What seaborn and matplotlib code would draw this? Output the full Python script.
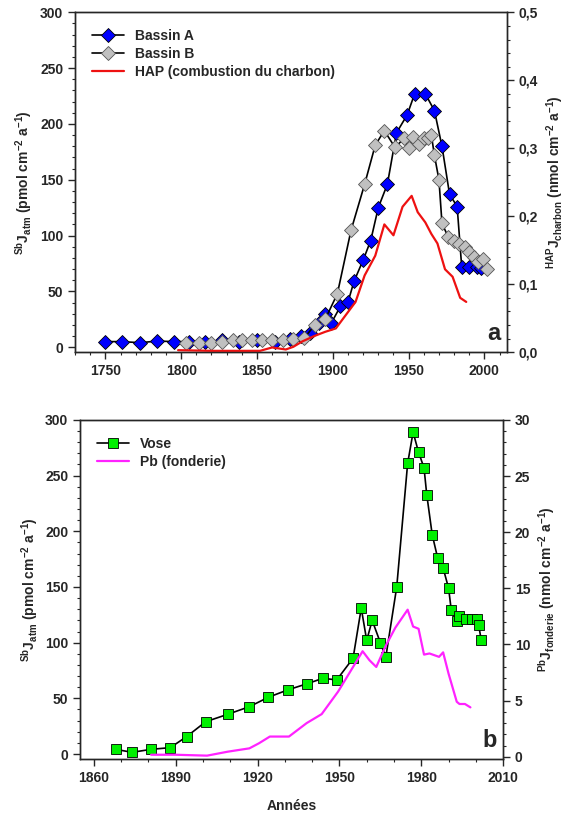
import matplotlib
matplotlib.use("Agg")
import matplotlib.pyplot as plt
import matplotlib.ticker as mticker
import seaborn as sns

# --- panel a : Sb fluxes in two basins + PAH (coal combustion)
years_a = [1750, 1761, 1773, 1784, 1795, 1805, 1816, 1827, 1838, 1850, 1862, 1872,
           1879, 1885, 1891, 1895, 1899, 1905, 1910, 1914, 1920, 1925, 1930, 1936,
           1942, 1949, 1954, 1961, 1967, 1972, 1977, 1982, 1985, 1990, 1995, 1998]
bassin_a = [5, 5, 4, 5.5, 5, 5, 5, 6, 5, 6, 5, 7,
            10, 12.5, 21.6, 29.4, 21.6, 36.5, 40.3, 59, 78, 95.5, 125, 146,
            192, 208, 227, 227, 212, 180, 137, 126, 72, 72, 72, 71]

years_b = [1803, 1812, 1820, 1827, 1834, 1840, 1847, 1853, 1860, 1867, 1874, 1881,
           1888, 1895, 1903, 1912, 1921, 1928, 1934, 1941, 1947, 1950, 1953, 1957,
           1960, 1963, 1965, 1967, 1970, 1972, 1976, 1980, 1983, 1987, 1990, 1993,
           1996, 1999, 2002]
bassin_b = [4, 4, 4, 5, 6, 6, 6, 6, 6, 6, 7, 8,
            19.6, 25, 47.8, 104.6, 146, 181, 194, 179, 187, 178, 188, 182,
            187, 187, 190, 172, 150, 111, 99, 95, 92, 90, 85, 81,
            76, 79, 70]

years_hap = [1798, 1820, 1842, 1852, 1860, 1869, 1874, 1880, 1888, 1895, 1902, 1906,
             1910, 1915, 1921, 1928, 1934, 1940, 1946, 1952, 1956, 1961, 1965, 1969,
             1974, 1979, 1984, 1988]
hap = [0.003, 0.002, 0.002, 0.002, 0.007, 0.004, 0.008, 0.016, 0.024, 0.030, 0.035, 0.047,
       0.059, 0.074, 0.113, 0.142, 0.188, 0.172, 0.214, 0.230, 0.206, 0.191, 0.174, 0.160,
       0.122, 0.111, 0.080, 0.074]

# --- panel b : Sb flux at Vose + Pb (smelter)
years_vose = [1868, 1874, 1881, 1888, 1894, 1901, 1909, 1917, 1924, 1931, 1938, 1944,
              1949, 1955, 1958, 1960, 1962, 1965, 1967, 1971, 1975, 1977, 1979, 1981,
              1982, 1984, 1986, 1988, 1990, 1991, 1993, 1994, 1996.5, 1998.5, 2000.3,
              2001, 2002]
vose = [4.2, 1.5, 4.2, 5.7, 15.6, 29, 35.6, 42.5, 51, 57.5, 63, 68,
        66.5, 86, 131, 102, 120, 100, 87, 150, 261, 289, 271, 257,
        233, 197, 176, 167, 149, 129, 119.5, 124, 121, 121, 121,
        116, 102]

years_pb = [1881, 1890, 1901.5, 1909, 1917, 1920.5, 1924.5, 1931.5, 1938, 1943.5, 1949.5,
            1954, 1958.5, 1961, 1963.5, 1967, 1970.5, 1975, 1977, 1979, 1981, 1983,
            1986.5, 1988, 1990, 1993, 1994, 1996, 1998]
pb = [0.18, 0.18, 0.1, 0.45, 0.75, 1.2, 1.8, 1.8, 3.0, 3.8, 5.8,
      7.6, 9.4, 8.6, 8.0, 9.9, 11.5, 13.1, 11.6, 11.4, 9.1, 9.2,
      8.9, 9.3, 7.4, 4.9, 4.7, 4.7, 4.4]

sns.set_style("ticks")
plt.rcParams["font.family"] = ["Liberation Sans", "DejaVu Sans"]
plt.rcParams["font.weight"] = "bold"
plt.rcParams["mathtext.fontset"] = "custom"
plt.rcParams["mathtext.rm"] = "Liberation Sans:bold"
plt.rcParams["mathtext.it"] = "Liberation Sans:bold"
plt.rcParams["mathtext.bf"] = "Liberation Sans:bold"
plt.rcParams["mathtext.default"] = "bf"

fig = plt.figure(figsize=(5.77, 8.21), dpi=100)
ax1 = fig.add_axes([0.130, 0.571, 0.749, 0.414])
ax3 = fig.add_axes([0.139, 0.0755, 0.733, 0.413])

comma = mticker.FuncFormatter(lambda v, _: f"{v:.1f}".replace(".", ","))


def style_axis(ax, fs=10):
    ax.tick_params(which="major", direction="out", length=5, width=1, labelsize=fs)
    ax.tick_params(which="minor", direction="out", length=2.5, width=0.8)
    for lab in ax.get_xticklabels() + ax.get_yticklabels():
        lab.set_fontweight("bold")
    for sp in ax.spines.values():
        sp.set_linewidth(1)
        sp.set_visible(True)


# ---------- panel a
sns.lineplot(x=years_a, y=bassin_a, ax=ax1, color="black", lw=1.2, marker="D",
             markersize=7, markerfacecolor="#0000FF", markeredgecolor="black",
             markeredgewidth=0.6, label="Bassin A", sort=False)
sns.lineplot(x=years_b, y=bassin_b, ax=ax1, color="black", lw=1.2, marker="D",
             markersize=7, markerfacecolor="#C0C0C0", markeredgecolor="#555555",
             markeredgewidth=0.6, label="Bassin B", sort=False)
ax2 = ax1.twinx()
sns.lineplot(x=years_hap, y=hap, ax=ax2, color="#EE1111", lw=1.6,
             label="HAP (combustion du charbon)", sort=False)

ax1.set_xlim(1730, 2015)
ax1.set_ylim(-4.5, 300)
ax2.set_ylim(0, 0.5)
ax1.xaxis.set_major_locator(mticker.MultipleLocator(50))
ax1.xaxis.set_minor_locator(mticker.MultipleLocator(10))
ax1.yaxis.set_major_locator(mticker.MultipleLocator(50))
ax1.yaxis.set_minor_locator(mticker.MultipleLocator(10))
ax2.yaxis.set_major_locator(mticker.MultipleLocator(0.1))
ax2.yaxis.set_minor_locator(mticker.MultipleLocator(0.02))
ax2.yaxis.set_major_formatter(comma)

h1, l1 = ax1.get_legend_handles_labels()
h2, l2 = ax2.get_legend_handles_labels()
ax2.get_legend().remove()
ax1.legend(h1 + h2, l1 + l2, loc="upper left", frameon=False,
           handlelength=2.3, borderaxespad=0.8, labelspacing=0.3,
           prop={"weight": "bold", "size": 10})
ax1.set_xlabel("")
ax1.set_ylabel(r"$^{Sb}J_{atm}$ (pmol cm$^{-2}$ a$^{-1}$)", fontsize=10,
               fontweight="bold")
ax2.set_ylabel(r"$^{HAP}J_{charbon}$ (nmol cm$^{-2}$ a$^{-1}$)", fontsize=10,
               fontweight="bold")
ax1.text(0.985, 0.02, "a", transform=ax1.transAxes, ha="right", va="bottom",
         fontsize=17, fontweight="bold")
style_axis(ax1)
style_axis(ax2)

# ---------- panel b
sns.lineplot(x=years_vose, y=vose, ax=ax3, color="black", lw=1.2, marker="s",
             markersize=7, markerfacecolor="#00F000", markeredgecolor="black",
             markeredgewidth=0.6, label="Vose", sort=False)
ax4 = ax3.twinx()
sns.lineplot(x=years_pb, y=pb, ax=ax4, color="#FF22FF", lw=1.6,
             label="Pb (fonderie)", sort=False)

ax3.set_xlim(1855, 2010)
ax3.set_ylim(-4.5, 300)
ax4.set_ylim(-0.2, 30)
ax3.xaxis.set_major_locator(mticker.MultipleLocator(30))
ax3.xaxis.set_minor_locator(mticker.MultipleLocator(10))
ax3.yaxis.set_major_locator(mticker.MultipleLocator(50))
ax3.yaxis.set_minor_locator(mticker.MultipleLocator(10))
ax4.yaxis.set_major_locator(mticker.MultipleLocator(5))
ax4.yaxis.set_minor_locator(mticker.MultipleLocator(1))

h3, l3 = ax3.get_legend_handles_labels()
h4, l4 = ax4.get_legend_handles_labels()
ax4.get_legend().remove()
ax3.legend(h3 + h4, l3 + l4, loc="upper left", frameon=False,
           handlelength=2.3, borderaxespad=0.8, labelspacing=0.3,
           prop={"weight": "bold", "size": 10})
ax3.set_xlabel("Années", fontsize=10, fontweight="bold", labelpad=10)
ax3.set_ylabel(r"$^{Sb}J_{atm}$ (pmol cm$^{-2}$ a$^{-1}$)", fontsize=10,
               fontweight="bold")
ax4.set_ylabel(r"$^{Pb}J_{fonderie}$ (nmol cm$^{-2}$ a$^{-1}$)", fontsize=10,
               fontweight="bold")
ax3.text(0.985, 0.02, "b", transform=ax3.transAxes, ha="right", va="bottom",
         fontsize=17, fontweight="bold")
style_axis(ax3)
style_axis(ax4)

fig.savefig("out.png", dpi=100)
